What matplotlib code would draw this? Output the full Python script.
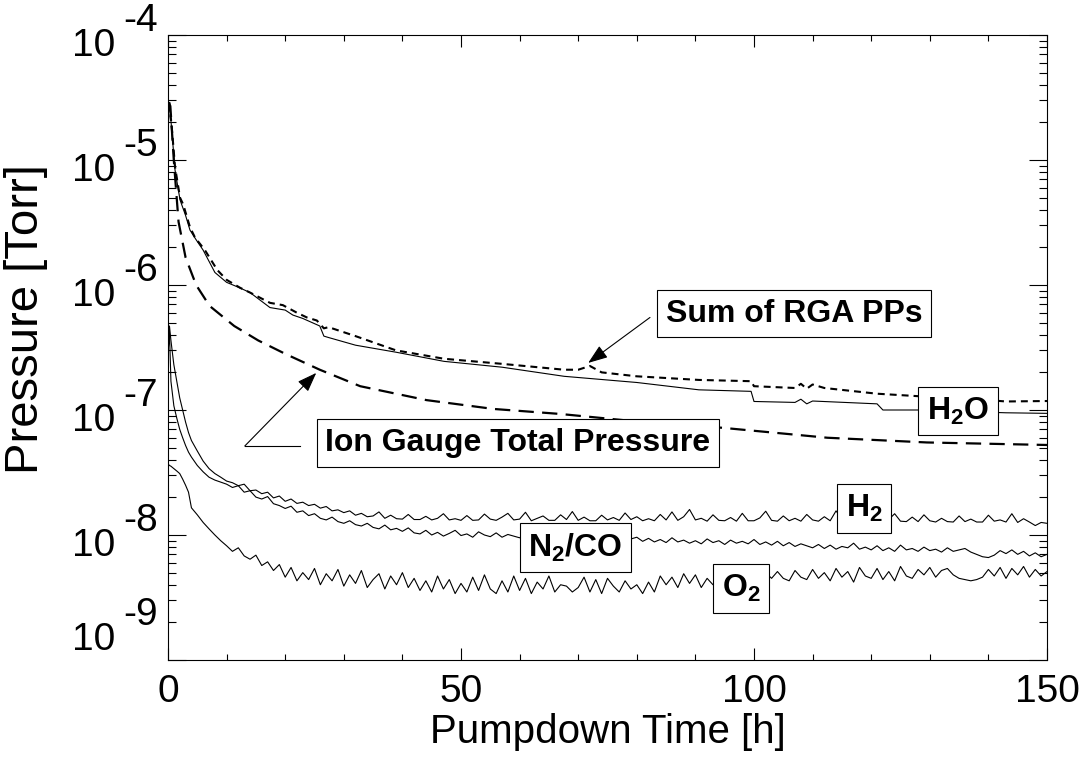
import numpy as np
import matplotlib
matplotlib.use('Agg')
import matplotlib.pyplot as plt
from matplotlib.ticker import LogLocator, MultipleLocator, NullFormatter

plt.rcParams['font.family'] = ['Liberation Sans', 'DejaVu Sans']
plt.rcParams['mathtext.fontset'] = 'custom'
plt.rcParams['mathtext.rm'] = 'Liberation Sans'
plt.rcParams['mathtext.bf'] = 'Liberation Sans:bold'
plt.rcParams['lines.scale_dashes'] = False

# ---------------- data ----------------
# Ion gauge total pressure [Torr]
t_ion = [0.1, 0.4, 1.0, 1.8, 3.0, 4.8, 7.1, 11.3, 15.4, 20.1, 25.9, 32.8, 44.1,
         55.5, 66.9, 80, 94.7, 112.5, 129.5, 150]
p_ion = [2.9e-5, 2.7e-5, 9.8e-6, 3.2e-6, 1.66e-6, 1.0e-6, 6.8e-7, 4.7e-7, 3.6e-7,
         2.8e-7, 2.1e-7, 1.55e-7, 1.2e-7, 1.02e-7, 9.3e-8, 8.1e-8, 7.2e-8, 6.0e-8,
         5.5e-8, 5.25e-8]

# Sum of RGA partial pressures [Torr]
t_sum = [0, 0.2, 0.7, 1.2, 2.05, 2.6, 3.75, 4.6, 6.3, 8.4, 10, 12.3, 14, 17.4, 19.6,
         22, 23.7, 25.4, 26.6, 27.4, 32, 38.9, 47.1, 57, 67.6, 70, 72, 74, 80, 90.6,
         99.5, 100, 107, 108, 109, 110, 112, 121, 128, 135, 143, 150]
p_sum = [2.0e-5, 3.0e-5, 1.7e-5, 8.8e-6, 5.0e-6, 4.4e-6, 2.9e-6, 2.4e-6, 1.9e-6,
         1.32e-6, 1.1e-6, 9.5e-7, 8.7e-7, 7.2e-7, 6.9e-7, 6.0e-7, 5.5e-7, 5.2e-7,
         4.5e-7, 4.6e-7, 3.9e-7, 3.0e-7, 2.57e-7, 2.34e-7, 2.1e-7, 2.1e-7, 2.25e-7,
         2.0e-7, 1.86e-7, 1.74e-7, 1.7e-7, 1.55e-7, 1.5e-7, 1.62e-7, 1.48e-7, 1.6e-7,
         1.5e-7, 1.35e-7, 1.29e-7, 1.25e-7, 1.17e-7, 1.18e-7]

# H2O partial pressure [Torr]
t_h2o = [0, 0.3, 0.7, 1.2, 2.05, 3.0, 3.75, 4.8, 6, 8, 10, 12, 14, 17.4, 20, 21.3,
         23, 25.9, 26.6, 27.4, 32, 38.9, 47.1, 57, 67.6, 80, 90.6, 99.5, 100, 107,
         108, 109, 110, 121, 122, 128, 143, 150]
p_h2o = [2.2e-5, 2.7e-5, 1.6e-5, 8.3e-6, 4.8e-6, 3.6e-6, 2.75e-6, 2.3e-6, 1.9e-6,
         1.26e-6, 1.05e-6, 9.6e-7, 8.7e-7, 6.6e-7, 6.3e-7, 5.75e-7, 5.4e-7, 4.7e-7,
         3.9e-7, 3.8e-7, 3.3e-7, 2.9e-7, 2.45e-7, 2.2e-7, 1.86e-7, 1.66e-7, 1.45e-7,
         1.41e-7, 1.17e-7, 1.15e-7, 1.22e-7, 1.12e-7, 1.18e-7, 1.12e-7, 1.0e-7,
         1.0e-7, 9.5e-8, 9.4e-8]

# RGA sampling times for the light species [h]
t_early = [0, 0.25, 0.5, 1, 1.5, 2, 2.5, 3, 3.5, 4, 5, 6, 7, 8, 9]
t_rga = np.concatenate([t_early, np.arange(10, 151)])

# H2 partial pressure [1e-9 Torr]
h2 = [300, 470, 360, 230, 170, 125, 100, 80, 66, 57, 47, 39, 34, 31, 29,
      27.0, 26.2, 24.8, 25.5, 22.6, 22.9, 21.4, 22.0, 19.8, 20.5,
      18.6, 19.4, 17.9, 18.3, 17.2, 17.6, 16.4, 16.9, 15.6, 15.9,
      15.1, 15.6, 14.4, 14.9, 14.0, 14.2, 15.3, 13.6, 14.4, 13.5,
      13.4, 14.6, 13.3, 13.3, 14.1, 13.2, 13.6, 14.8, 13.2, 13.5,
      13.1, 14.3, 13.1, 13.2, 14.7, 13.4, 13.1, 13.9, 14.9, 13.2,
      13.4, 15.2, 13.0, 13.6, 14.2, 13.1, 13.1, 14.5, 13.3, 15.4,
      13.1, 13.9, 13.0, 13.0, 14.4, 13.2, 13.8, 13.1, 15.0, 13.3,
      14.0, 13.0, 13.5, 13.0, 14.6, 13.2, 15.3, 13.1, 14.0, 16.0,
      13.2, 13.6, 12.9, 14.5, 13.1, 13.0, 13.8, 12.9, 14.9, 13.0,
      13.0, 13.7, 15.5, 13.1, 12.9, 14.2, 13.0, 13.6, 12.9, 14.6,
      13.2, 12.9, 14.0, 13.0, 15.6, 13.4, 13.0, 14.3, 13.1, 13.5,
      12.9, 14.4, 12.8, 13.3, 14.8, 12.9, 12.8, 13.9, 12.8, 14.5,
      13.0, 12.7, 13.6, 12.8, 12.7, 14.2, 12.8, 13.4, 12.7, 12.7,
      14.4, 12.9, 13.2, 12.7, 14.8, 12.6, 13.5, 12.7, 11.9, 12.6, 12.4]

# N2/CO partial pressure [1e-9 Torr]
n2co = [280, 420, 170, 108, 86, 70, 60, 52, 46, 42, 36, 32, 29, 27.5, 26.5,
        25.5, 24.0, 24.8, 22.0, 22.6, 20.1, 19.4, 20.3, 17.8, 17.2,
        16.3, 17.0, 15.2, 15.6, 14.3, 14.8, 13.6, 13.2, 13.9, 12.8,
        12.4, 13.0, 12.1, 11.8, 12.4, 11.5, 11.2, 12.0, 11.0, 11.3,
        10.7, 11.4, 10.4, 10.2, 10.9, 10.0, 10.5, 9.8, 10.3, 10.9,
        9.9, 10.2, 9.6, 10.6, 10.0, 9.7, 10.4, 9.6, 10.1, 9.8,
        9.5, 10.1, 9.4, 9.9, 9.6, 9.3, 9.8, 9.5, 9.2, 9.7,
        9.4, 9.1, 9.6, 9.3, 9.0, 9.5, 9.2, 9.4, 9.0, 9.3,
        9.6, 8.9, 9.4, 8.8, 9.2, 8.7, 9.5, 8.8, 9.1, 8.6,
        9.0, 8.5, 9.3, 8.7, 9.0, 8.4, 9.1, 8.6, 8.9, 8.5,
        9.2, 8.4, 8.8, 8.3, 8.9, 8.2, 8.7, 8.1, 8.5, 8.2,
        7.9, 8.4, 7.8, 8.3, 7.7, 8.1, 7.9, 8.6, 7.7, 8.0,
        7.6, 8.2, 7.5, 7.9, 7.4, 8.3, 7.6, 7.8, 7.4, 8.0,
        7.5, 7.7, 7.3, 7.9, 7.4, 7.6, 7.8, 7.3, 7.0, 6.7,
        6.6, 6.9, 7.5, 7.1, 7.6, 7.0, 7.4, 6.8, 7.2, 6.7, 7.0]

# O2 partial pressure [1e-9 Torr]
o2 = [37, 36, 35.5, 34, 32.5, 31, 28, 25, 22, 16.5, 14.5, 12.6, 11.2, 10.0, 9.0,
      8.2, 7.4, 7.9, 6.8, 6.4, 6.9, 5.7, 6.1, 5.2, 5.8,
      4.6, 5.5, 4.3, 5.0, 4.4, 5.4, 4.0, 4.9, 4.3, 5.3,
      3.9, 4.8, 4.1, 5.2, 3.8, 4.4, 4.9, 3.7, 4.7, 4.0,
      5.0, 3.8, 4.5, 3.6, 4.3, 3.5, 4.7, 3.7, 4.4, 3.4,
      4.1, 3.5, 4.6, 3.6, 4.8, 3.7, 3.4, 4.3, 3.5, 4.7,
      3.6, 4.5, 3.4, 4.2, 3.7, 4.7, 3.5, 4.0, 3.9, 3.5,
      3.8, 4.6, 3.5, 4.4, 3.4, 4.5, 3.9, 3.5, 4.3, 3.7,
      4.0, 3.4, 4.2, 3.5, 4.7, 4.0, 4.6, 3.8, 4.9, 4.1,
      4.8, 3.8, 4.5, 4.0, 4.6, 4.3, 4.6, 4.4, 4.8, 4.5,
      4.6, 4.2, 5.0, 4.5, 5.1, 4.5, 4.3, 5.2, 4.6, 4.4,
      5.3, 4.5, 5.0, 4.3, 5.4, 4.6, 5.1, 4.2, 5.5, 4.7,
      4.5, 5.4, 4.4, 5.1, 4.3, 5.6, 4.7, 4.5, 5.3, 4.8,
      5.5, 4.6, 5.2, 5.4, 4.8, 4.5, 4.4, 4.3, 4.4, 4.6,
      5.3, 4.7, 5.5, 4.5, 5.4, 4.8, 5.6, 4.6, 5.3, 4.7, 5.1]

decades = [-9, -8, -7, -6, -5, -4]
x_ticks = [0, 50, 100, 150]

# ---------------- figure ----------------
W, H = 1088, 771
fig = plt.figure(figsize=(W / 100, H / 100), dpi=100)
ax = fig.add_axes([168 / W, (H - 660) / H, 879 / W, 625 / H])

ax.set_yscale('log')
ax.set_xlim(0, 150)
ax.set_ylim(1e-9, 1e-4)

scale = 1e-9
ax.plot(t_rga, np.array(h2) * scale, color='black', lw=0.8)
ax.plot(t_rga, np.array(n2co) * scale, color='black', lw=0.8)
ax.plot(t_rga, np.array(o2) * scale, color='black', lw=0.8)
ax.plot(t_h2o, p_h2o, color='black', lw=0.8)
ax.plot(t_sum, p_sum, color='black', lw=1.5, dashes=(5.0, 3.6))
ax.plot(t_ion, p_ion, color='black', lw=1.6, dashes=(11.0, 6.0))

# ticks
ax.xaxis.set_major_locator(MultipleLocator(50))
ax.xaxis.set_minor_locator(MultipleLocator(10))
ax.yaxis.set_major_locator(LogLocator(base=10, numticks=20))
ax.yaxis.set_minor_locator(LogLocator(base=10, subs=np.arange(2, 10), numticks=20))
ax.yaxis.set_major_formatter(NullFormatter())
ax.yaxis.set_minor_formatter(NullFormatter())
ax.set_xticks(x_ticks)
ax.set_xticklabels([str(v) for v in x_ticks])
ax.tick_params(axis='both', which='both', direction='in', top=True, right=True,
               width=0.8, color='black')
ax.tick_params(axis='x', which='major', length=8.6, pad=10, labelsize=28)
ax.tick_params(axis='x', which='minor', length=4.3)
ax.tick_params(axis='y', which='major', length=13)
ax.tick_params(axis='y', which='minor', length=5.8)
for s in ax.spines.values():
    s.set_linewidth(0.8)

# y tick labels: "10" with full-size raised exponent
for d in decades:
    if d == decades[0]:
        dy10, dyexp = 20, 45
    else:
        dy10, dyexp = -11, 14
    ax.annotate('10', xy=(0, 10.0 ** d), xycoords=('axes fraction', 'data'),
                xytext=(-53, dy10), textcoords='offset pixels',
                ha='right', va='center', fontsize=28, annotation_clip=False)
    ax.annotate('-%d' % (-d), xy=(0, 10.0 ** d), xycoords=('axes fraction', 'data'),
                xytext=(-45, dyexp), textcoords='offset pixels',
                ha='left', va='center', fontsize=28, annotation_clip=False)

ax.set_xlabel('Pumpdown Time [h]', fontsize=29, labelpad=2)
ax.set_ylabel('Pressure [Torr]', fontsize=34)
ax.yaxis.set_label_coords(-0.136, 0.545)

# labels in boxes
box = dict(boxstyle='square,pad=0.27', fc='white', ec='black', lw=0.8)
kw = dict(ha='center', va='center', fontsize=23, fontweight='bold', bbox=box, zorder=6)
ax.text(106.8, 5.9e-7, 'Sum of RGA PPs', **kw)
ax.text(59.7, 5.45e-8, 'Ion Gauge Total Pressure', **kw)
ax.text(134.8, 9.8e-8, r'$\mathbf{H_2O}$', **kw)
ax.text(118.8, 1.63e-8, r'$\mathbf{H_2}$', **kw)
ax.text(69.5, 7.94e-9, r'$\mathbf{N_2/CO}$', **kw)
ax.text(97.8, 3.73e-9, r'$\mathbf{O_2}$', **kw)

arrow = dict(arrowstyle='-|>,head_length=0.6,head_width=0.22', color='black',
             lw=0.8, shrinkA=0, shrinkB=0, mutation_scale=20)
ax.annotate('', xy=(71.7, 2.38e-7), xytext=(82.25, 5.5e-7), arrowprops=arrow)
ax.plot([22.5, 13.1], [5.15e-8, 5.15e-8], color='black', lw=0.8)
ax.annotate('', xy=(25.3, 1.98e-7), xytext=(13.1, 5.15e-8), arrowprops=arrow)

fig.savefig('out.png', dpi=100)
